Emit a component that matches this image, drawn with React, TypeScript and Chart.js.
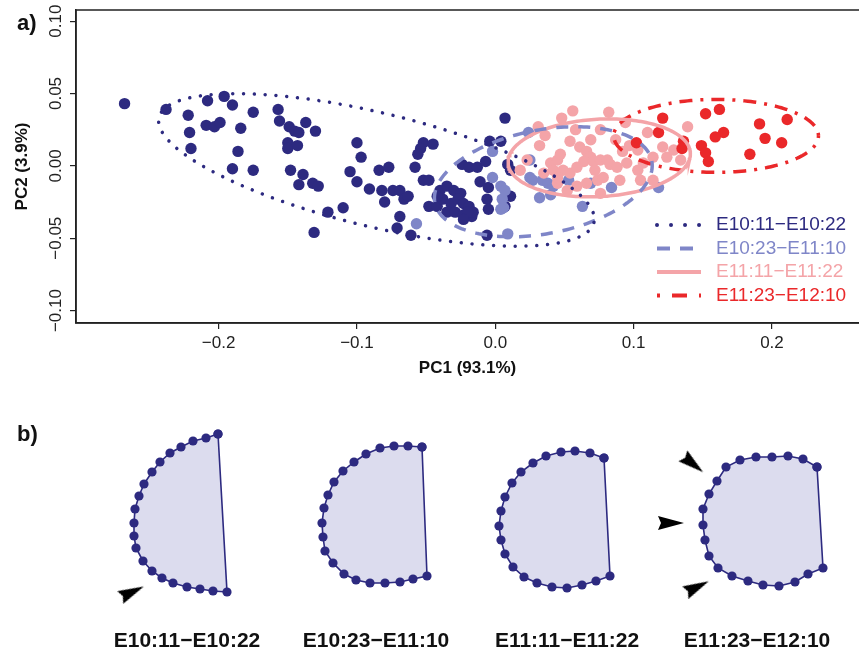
import React, { useEffect, useRef } from 'react';
import { Chart, registerables } from 'chart.js';

Chart.register(...registerables);
Chart.defaults.font.family = '"Liberation Sans", Arial, sans-serif';

// ---------- Panel a data ----------
const GROUPS = ['E10:11−E10:22', 'E10:23−E11:10', 'E11:11−E11:22', 'E11:23−E12:10'];
const COLORS = ['#2d2a80', '#7f86c8', '#f4a4a8', '#ea282a'];

const X_TICKS = [-0.2, -0.1, 0, 0.1, 0.2];
const X_TICK_LABELS = ['−0.2', '−0.1', '0.0', '0.1', '0.2'];
const Y_TICKS = [-0.1, -0.05, 0, 0.05, 0.1];
const Y_TICK_LABELS = ['−0.10', '−0.05', '0.00', '0.05', '0.10'];

const PC_G1 = [
  [-0.268, 0.043], [-0.238, 0.039], [-0.222, 0.035], [-0.208, 0.045], [-0.196, 0.048], [-0.19, 0.042],
  [-0.175, 0.037], [-0.157, 0.039], [-0.156, 0.031], [-0.149, 0.027], [-0.145, 0.024], [-0.142, 0.023],
  [-0.137, 0.03], [-0.13, 0.024], [-0.221, 0.023], [-0.209, 0.028], [-0.203, 0.027], [-0.199, 0.03],
  [-0.184, 0.026], [-0.22, 0.012], [-0.186, 0.01], [-0.15, 0.016], [-0.15, 0.012], [-0.143, 0.014],
  [-0.19, -0.002], [-0.175, -0.003], [-0.148, -0.003], [-0.139, -0.006], [-0.142, -0.013], [-0.132, -0.012],
  [-0.128, -0.014], [-0.131, -0.046], [-0.1, 0.016], [-0.097, 0.006], [-0.105, -0.004], [-0.1, -0.011],
  [-0.084, -0.003], [-0.077, -0.001], [-0.091, -0.016], [-0.082, -0.017], [-0.08, -0.025], [-0.074, -0.017],
  [-0.069, -0.017], [-0.066, -0.023], [-0.063, -0.021], [-0.121, -0.032], [-0.11, -0.029], [-0.069, -0.035],
  [-0.071, -0.043], [-0.061, -0.048], [-0.052, 0.016], [-0.045, 0.015], [-0.054, 0.012], [-0.056, 0.008],
  [-0.058, -0.001], [-0.052, -0.01], [-0.048, -0.01], [-0.048, -0.028], [-0.042, -0.028], [-0.04, -0.017],
  [-0.035, -0.014], [-0.03, -0.017], [-0.025, -0.019], [-0.038, -0.023], [-0.032, -0.026], [-0.027, -0.023],
  [-0.023, -0.026], [-0.019, -0.028], [-0.035, -0.032], [-0.029, -0.032], [-0.023, -0.034], [-0.017, -0.035],
  [-0.016, -0.032], [-0.042, -0.021], [-0.024, 0.001], [-0.019, -0.001], [-0.013, -0.001], [-0.007, 0.003],
  [-0.004, 0.017], [0.004, 0.017], [0.007, 0.033], [-0.011, -0.011], [-0.005, -0.015], [-0.006, -0.023],
  [-0.005, -0.03], [-0.02, -0.032], [-0.023, -0.037], [0.011, -0.021], [-0.006, -0.048], [0.009, 0.001],
  [0.011, -0.003], [0.007, -0.028],
];
const PC_G2 = [
  [-0.002, 0.01], [-0.002, -0.008], [0.004, -0.014], [0.005, -0.023], [0.006, -0.029], [-0.057, -0.04],
  [0.009, -0.047], [0.025, 0.004], [0.025, -0.008], [0.027, -0.01], [0.034, -0.01], [0.038, -0.012],
  [0.032, -0.022], [0.04, -0.02], [0.042, -0.014], [0.063, -0.028], [0.118, -0.015], [0.007, -0.017],
  [0.004, -0.03], [0.053, -0.01], [0.069, -0.012], [0.084, -0.015], [0.024, 0.023],
];
const PC_G3 = [
  [0.056, 0.038], [0.082, 0.037], [0.048, 0.033], [0.031, 0.027], [0.076, 0.025], [0.094, 0.03],
  [0.11, 0.023], [0.139, 0.027], [0.103, 0.011], [0.054, 0.017], [0.061, 0.013], [0.066, 0.01],
  [0.069, 0.006], [0.064, 0.003], [0.071, 0.003], [0.076, 0.004], [0.081, 0.004], [0.083, 0.001],
  [0.088, -0.001], [0.095, 0.002], [0.107, 0.002], [0.114, 0.006], [0.124, 0.006], [0.121, 0.013],
  [0.129, 0.011], [0.134, 0.004], [0.023, 0.004], [0.018, -0.003], [0.04, 0.002], [0.045, 0.004],
  [0.035, -0.005], [0.042, -0.003], [0.049, -0.003], [0.054, -0.005], [0.059, -0.001], [0.052, -0.017],
  [0.059, -0.014], [0.066, -0.012], [0.074, -0.01], [0.078, -0.008], [0.045, -0.012], [0.045, -0.008],
  [0.103, -0.003], [0.105, -0.01], [0.114, -0.01], [0.076, -0.019], [0.092, 0.01], [0.087, 0.018],
  [0.069, 0.018], [0.032, 0.014], [0.058, 0.025], [0.097, 0.014], [0.047, 0.008], [0.072, -0.003],
  [0.09, -0.01], [0.036, 0.021],
];
const PC_G4 = [
  [0.102, 0.016], [0.118, 0.023], [0.121, 0.033], [0.136, 0.017], [0.135, 0.012], [0.149, 0.014],
  [0.152, 0.009], [0.154, 0.003], [0.152, 0.036], [0.162, 0.039], [0.165, 0.023], [0.159, 0.02],
  [0.184, 0.008], [0.191, 0.029], [0.195, 0.019], [0.207, 0.016], [0.211, 0.032],
];
const PC_GROUPS = [PC_G1, PC_G2, PC_G3, PC_G4];

// Confidence ellipses: centre and two conjugate semi-axes (data units)
const ELLIPSE_CENTERS = [[-0.0859, -0.0028], [0.0347, -0.011], [0.0751, 0.0055], [0.1596, 0.0207]];
const ELLIPSE_AXIS_U = [[0.1572, -0.0363], [0.0784, 0.0144], [0.0659, 0.0035], [0.074, 0]];
const ELLIPSE_AXIS_V = [[-0.00968, -0.0382], [0.00708, -0.0352], [0.00157, -0.0267], [0, 0.0252]];

// ---------- Panel b data (outline landmarks, local units) ----------
const OUTLINE_1 = [[31, 34], [19, 38], [6, 41], [-6, 47], [-17, 53], [-27, 62], [-35, 72], [-43, 84], [-48, 96], [-52, 109], [-53, 123], [-53, 136], [-51, 148], [-44, 161], [-35, 171], [-25, 178], [-14, 183], [0, 187], [13, 189], [26, 191], [40, 192]];
const OUTLINE_2 = [[46, 47], [32, 46], [18, 46], [4, 48], [-10, 54], [-22, 62], [-33, 71], [-42, 82], [-48, 95], [-52, 108], [-54, 123], [-53, 137], [-51, 151], [-43, 163], [-32, 174], [-20, 180], [-6, 183], [9, 183], [24, 182], [37, 179], [51, 176]];
const OUTLINE_3 = [[37, 58], [23, 53], [8, 51], [-6, 52], [-21, 56], [-34, 63], [-46, 72], [-55, 83], [-62, 97], [-66, 111], [-68, 126], [-66, 140], [-62, 154], [-54, 167], [-43, 177], [-30, 183], [-15, 187], [0, 188], [15, 185], [29, 181], [43, 176]];
const OUTLINE_4 = [[60, 67], [46, 59], [31, 56], [15, 57], [-1, 57], [-17, 60], [-31, 67], [-40, 81], [-48, 94], [-54, 109], [-54, 125], [-52, 140], [-48, 156], [-39, 168], [-25, 176], [-9, 181], [6, 185], [22, 186], [38, 182], [51, 174], [66, 168]];
const OUTLINES = [OUTLINE_1, OUTLINE_2, OUTLINE_3, OUTLINE_4];
// arrowheads: x, y, direction (degrees)
const ARROWS = [[[-55, 192, -25]], [], [], [[-64, 64, 39], [-86, 123, 0], [-60, 187, -26]]];

const PLOT_DASH = [[0.01, 10.8], [12, 10], [], [3, 8, 13, 8]];
const PLOT_CAP = ['round', 'butt', 'butt', 'butt'];
const LEGEND_DASH = [[0.01, 14], [13, 10], [], [3, 12, 15, 12]];

function ellipsePath(i: number) {
  const [cx, cy] = ELLIPSE_CENTERS[i];
  const [ux, uy] = ELLIPSE_AXIS_U[i];
  const [vx, vy] = ELLIPSE_AXIS_V[i];
  const pts: { x: number; y: number }[] = [];
  const n = 200;
  for (let k = 0; k <= n; k++) {
    const t = (k / n) * Math.PI * 2;
    pts.push({ x: cx + ux * Math.cos(t) + vx * Math.sin(t), y: cy + uy * Math.cos(t) + vy * Math.sin(t) });
  }
  return pts;
}

const boxPlugin = {
  id: 'boxPlugin',
  afterDraw(chart: any) {
    const { ctx, chartArea: a } = chart;
    ctx.save();
    ctx.strokeStyle = '#222';
    ctx.lineWidth = 1.5;
    ctx.strokeRect(a.left, a.top, a.right - a.left + 5, a.bottom - a.top);
    ctx.restore();
  },
};

const insetLegend = {
  id: 'insetLegend',
  afterDraw(chart: any) {
    const { ctx, chartArea: a } = chart;
    for (let i = 0; i < 4; i++) {
      const ds = chart.data.datasets[i];
      const y = a.bottom - 98 + i * 23.5;
      ctx.save();
      ctx.strokeStyle = ds.borderColor;
      ctx.lineWidth = 4;
      ctx.lineCap = i === 0 ? 'round' : 'butt';
      ctx.setLineDash(LEGEND_DASH[i]);
      ctx.beginPath();
      ctx.moveTo(a.right - 202, y);
      ctx.lineTo(a.right - 158, y);
      ctx.stroke();
      ctx.setLineDash([]);
      ctx.fillStyle = ds.borderColor;
      ctx.font = '19px "Liberation Sans", Arial, sans-serif';
      ctx.textBaseline = 'middle';
      ctx.fillText(ds.label, a.right - 143, y);
      ctx.restore();
    }
  },
};

function makeArrowImage() {
  const c = document.createElement('canvas');
  c.width = 26;
  c.height = 14;
  const g = c.getContext('2d')!;
  g.fillStyle = '#000';
  g.beginPath();
  g.moveTo(26, 7);
  g.lineTo(0, 0);
  g.lineTo(3, 7);
  g.lineTo(0, 14);
  g.closePath();
  g.fill();
  return c;
}

export default function App() {
  const aRef = useRef<HTMLCanvasElement>(null);
  const b0 = useRef<HTMLCanvasElement>(null);
  const b1 = useRef<HTMLCanvasElement>(null);
  const b2 = useRef<HTMLCanvasElement>(null);
  const b3 = useRef<HTMLCanvasElement>(null);

  useEffect(() => {
    const charts: Chart[] = [];
    const ellipseSets = GROUPS.map((g, i) => ({
      label: g,
      data: ellipsePath(i),
      showLine: true,
      borderColor: COLORS[i],
      backgroundColor: COLORS[i],
      borderWidth: 3.5,
      borderDash: PLOT_DASH[i],
      borderCapStyle: PLOT_CAP[i],
      pointRadius: 0,
      fill: false,
      tension: 0,
      order: i,
    }));
    const pointSets = PC_GROUPS.map((grp, i) => ({
      label: GROUPS[i] + ' pts',
      data: grp.map(([x, y]) => ({ x, y })),
      pointRadius: 5.7,
      pointBorderWidth: 0,
      pointBackgroundColor: COLORS[i],
      pointBorderColor: COLORS[i],
      showLine: false,
      order: 7 - i,
    }));

    charts.push(
      new Chart(aRef.current!, {
        type: 'scatter',
        data: { datasets: [...ellipseSets, ...pointSets] as any },
        options: {
          responsive: false,
          animation: false,
          events: [],
          layout: { autoPadding: false, padding: { top: 10, left: 0, right: 0, bottom: 0 } },
          plugins: { legend: { display: false }, tooltip: { enabled: false } },
          scales: {
            x: {
              type: 'linear',
              min: -0.3031,
              max: 0.2629,
              afterBuildTicks: (s: any) => {
                s.ticks = X_TICKS.map((v) => ({ value: v }));
              },
              afterFit: (s: any) => {
                s.height = 77;
                s.paddingLeft = 0;
                s.paddingRight = 0;
              },
              ticks: {
                autoSkip: false,
                maxRotation: 0,
                padding: 4,
                color: '#222',
                font: { size: 17 },
                callback: (v: any) => X_TICK_LABELS[X_TICKS.indexOf(Number(v))] ?? '',
              },
              grid: { drawOnChartArea: false, drawTicks: true, tickLength: 6, color: '#222', lineWidth: 1.2 },
              border: { display: true, color: '#222', width: 1.5 },
              title: {
                display: true,
                text: 'PC1 (93.1%)',
                color: '#111',
                font: { size: 17, weight: 'bold' },
                padding: { top: 0, bottom: 21 },
              },
            },
            y: {
              type: 'linear',
              min: -0.1086,
              max: 0.1077,
              afterBuildTicks: (s: any) => {
                s.ticks = Y_TICKS.map((v) => ({ value: v }));
              },
              afterFit: (s: any) => {
                s.width = 76;
                s.paddingTop = 0;
                s.paddingBottom = 0;
              },
              ticks: {
                autoSkip: false,
                minRotation: 90,
                maxRotation: 90,
                crossAlign: 'center',
                padding: -8,
                color: '#222',
                font: { size: 17 },
                callback: (v: any) => Y_TICK_LABELS[Y_TICKS.indexOf(Number(v))] ?? '',
              },
              grid: { drawOnChartArea: false, drawTicks: true, tickLength: 6, color: '#222', lineWidth: 1.2 },
              border: { display: true, color: '#222', width: 1.5 },
              title: {
                display: true,
                text: 'PC2 (3.9%)',
                color: '#111',
                font: { size: 17, weight: 'bold' },
                padding: { top: 12, bottom: 0 },
              },
            },
          },
        } as any,
        plugins: [boxPlugin, insetLegend],
      })
    );

    const arrowImg = makeArrowImage();
    [b0, b1, b2, b3].forEach((ref, i) => {
      const outline = OUTLINES[i].map(([x, y]) => ({ x, y }));
      outline.push({ ...outline[0] });
      const arrows = ARROWS[i];
      charts.push(
        new Chart(ref.current!, {
          type: 'scatter',
          data: {
            datasets: [
              {
                data: arrows.map(([x, y]) => ({ x, y })),
                pointStyle: arrowImg,
                pointRotation: arrows.map((a) => a[2]),
                pointRadius: 13,
                showLine: false,
                clip: false,
                order: 0,
              },
              {
                data: outline,
                showLine: true,
                fill: 'shape',
                backgroundColor: '#dcdcee',
                borderColor: '#2d2a80',
                borderWidth: 1.6,
                pointRadius: 4.6,
                pointBorderWidth: 0,
                pointBackgroundColor: '#2d2a80',
                pointBorderColor: '#2d2a80',
                tension: 0,
                clip: false,
                order: 1,
              },
            ] as any,
          },
          options: {
            responsive: false,
            animation: false,
            events: [],
            layout: { autoPadding: false, padding: 0 },
            plugins: { legend: { display: false }, tooltip: { enabled: false } },
            scales: {
              x: {
                type: 'linear',
                min: -105,
                max: 105,
                ticks: { display: false },
                grid: { display: false, drawTicks: false },
                border: { display: false },
                afterFit: (s: any) => {
                  s.height = 34;
                  s.paddingLeft = 0;
                  s.paddingRight = 0;
                },
                title: {
                  display: true,
                  text: GROUPS[i],
                  color: '#111',
                  font: { size: 21, weight: 'bold' },
                  padding: { top: 0, bottom: 0 },
                },
              },
              y: { type: 'linear', min: 0, max: 220, reverse: true, display: false },
            },
          } as any,
        })
      );
    });

    return () => charts.forEach((c) => c.destroy());
  }, []);

  const labelCenters = [187, 375.5, 567, 757];
  const bRefs = [b0, b1, b2, b3];
  const labelStyle: React.CSSProperties = {
    position: 'absolute',
    left: 17,
    fontFamily: '"Liberation Sans", Arial, sans-serif',
    fontWeight: 'bold',
    fontSize: 22,
    lineHeight: '22px',
    color: '#111',
    margin: 0,
  };

  return (
    <div style={{ position: 'absolute', left: 0, top: 0, width: 859, height: 654, background: '#fff', overflow: 'hidden' }}>
      <canvas ref={aRef} width={859} height={400} style={{ position: 'absolute', left: 0, top: 0 }} />
      {bRefs.map((r, i) => (
        <canvas
          key={i}
          ref={r}
          width={210}
          height={254}
          style={{ position: 'absolute', left: labelCenters[i] - 105, top: 400 }}
        />
      ))}
      <div style={{ ...labelStyle, top: 12 }}>a)</div>
      <div style={{ ...labelStyle, top: 423 }}>b)</div>
    </div>
  );
}
